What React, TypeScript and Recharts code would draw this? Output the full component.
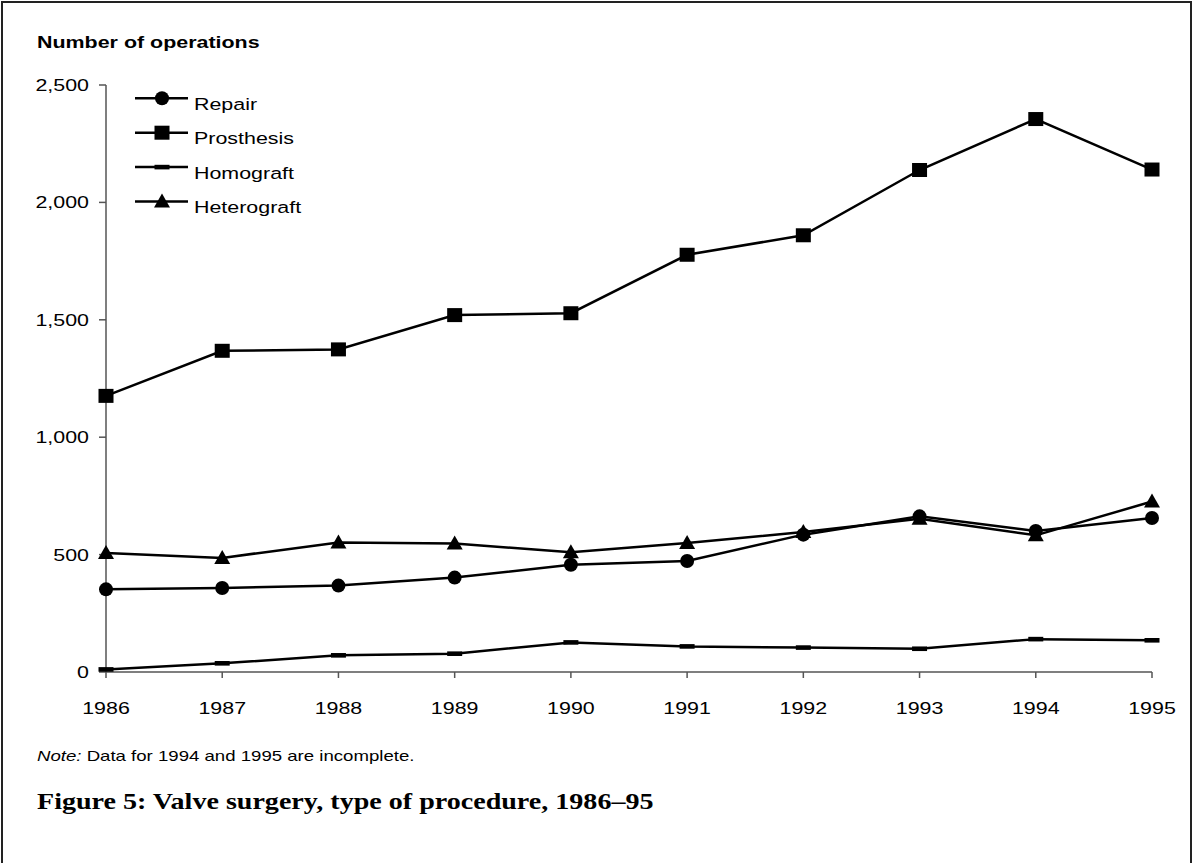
import React from "react";
import { LineChart, Line, XAxis, YAxis } from "recharts";

const years = ["1986", "1987", "1988", "1989", "1990", "1991", "1992", "1993", "1994", "1995"];
const repair = [352, 358, 368, 402, 457, 473, 585, 663, 601, 656];
const prosthesis = [1176, 1368, 1374, 1520, 1528, 1777, 1860, 2138, 2355, 2140];
const homograft = [11, 37, 71, 78, 126, 109, 104, 99, 140, 135];
const heterograft = [507, 486, 552, 547, 510, 549, 596, 653, 582, 726];
const yTicks = [0, 500, 1000, 1500, 2000, 2500];

const seriesNames = ["Repair", "Prosthesis", "Homograft", "Heterograft"];
const seriesShapes = ["circle", "square", "dash", "triangle"];

const data = years.map((y, i) => ({
  year: y,
  Repair: repair[i],
  Prosthesis: prosthesis[i],
  Homograft: homograft[i],
  Heterograft: heterograft[i],
}));

const SANS = "'Liberation Sans', Arial, sans-serif";
const STRETCH = 1.26;

function Marker({ shape, cx, cy }: { shape: string; cx: number; cy: number }) {
  if (shape === "circle") return <circle cx={cx} cy={cy} r={7} fill="#000" />;
  if (shape === "square") return <rect x={cx - 7.5} y={cy - 7} width={15} height={14} fill="#000" />;
  if (shape === "dash") return <rect x={cx - 7.5} y={cy - 2.3} width={15} height={4.6} fill="#000" />;
  return <polygon points={`${cx},${cy - 8} ${cx + 8},${cy + 6} ${cx - 8},${cy + 6}`} fill="#000" />;
}

const makeDot = (shape: string) => (props: any) => {
  const { cx, cy, index } = props;
  if (cx == null || cy == null) return <g key={`d-${shape}-${index}`} />;
  return (
    <g key={`d-${shape}-${index}`}>
      <Marker shape={shape} cx={cx} cy={cy} />
    </g>
  );
};

const fmt = (v: number) => v.toLocaleString("en-US");

const YTick = (props: any) => {
  const { x, y, payload } = props;
  return (
    <g transform={`translate(${x},${y})`}>
      <text transform={`scale(${STRETCH},1)`} textAnchor="end" dy="0.355em" fontSize={17} fontFamily={SANS} fill="#000">
        {fmt(payload.value)}
      </text>
    </g>
  );
};

const XTick = (props: any) => {
  const { x, y, payload } = props;
  return (
    <g transform={`translate(${x},${y})`}>
      <text transform={`scale(${STRETCH},1)`} textAnchor="middle" dy="0.71em" fontSize={17} fontFamily={SANS} fill="#000">
        {payload.value}
      </text>
    </g>
  );
};

function LegendBox() {
  return (
    <svg width={240} height={130} style={{ position: "absolute", left: 135, top: 86, display: "block" }}>
      {seriesNames.map((name, i) => {
        const cy = 12.3 + i * 34.4;
        return (
          <g key={name}>
            <line x1={0} x2={53} y1={cy} y2={cy} stroke="#000" strokeWidth={2.5} />
            <Marker shape={seriesShapes[i]} cx={27} cy={cy} />
            <g transform={`translate(59,${cy + 11.7})`}>
              <text transform={`scale(${STRETCH},1)`} fontSize={17} fontFamily={SANS} fill="#000">
                {name}
              </text>
            </g>
          </g>
        );
      })}
    </svg>
  );
}

export default function App() {
  return (
    <div style={{ position: "absolute", left: 0, top: 0, width: 1192, height: 863, background: "#fff", overflow: "hidden" }}>
      <div
        style={{
          position: "absolute",
          left: 1,
          top: 1,
          width: 1187,
          height: 900,
          borderLeft: "2px solid #222",
          borderTop: "2px solid #222",
          borderRight: "2px solid #222",
        }}
      />
      <div
        style={{
          position: "absolute",
          left: 37,
          top: 33,
          fontFamily: SANS,
          fontWeight: "bold",
          fontSize: 17,
          color: "#000",
          whiteSpace: "nowrap",
          transform: `scaleX(${STRETCH})`,
          transformOrigin: "left top",
        }}
      >
        Number of operations
      </div>
      <div style={{ position: "absolute", left: 0, top: 0 }}>
        <LineChart width={1192} height={740} data={data} margin={{ top: 85, right: 40, bottom: 40, left: 0 }}>
          <XAxis
            dataKey="year"
            height={28}
            tickSize={6}
            tickMargin={24}
            axisLine={{ stroke: "#555", strokeWidth: 1.5 }}
            tickLine={{ stroke: "#555", strokeWidth: 1.5 }}
            tick={<XTick />}
            interval={0}
          />
          <YAxis
            width={106}
            domain={[0, 2500]}
            ticks={yTicks}
            tickSize={7}
            tickMargin={10}
            axisLine={{ stroke: "#555", strokeWidth: 1.5 }}
            tickLine={{ stroke: "#555", strokeWidth: 1.5 }}
            tick={<YTick />}
          />
          <Line dataKey="Homograft" stroke="#000" strokeWidth={2.5} isAnimationActive={false} dot={makeDot("dash")} activeDot={false} />
          <Line dataKey="Repair" stroke="#000" strokeWidth={2.5} isAnimationActive={false} dot={makeDot("circle")} activeDot={false} />
          <Line dataKey="Heterograft" stroke="#000" strokeWidth={2.5} isAnimationActive={false} dot={makeDot("triangle")} activeDot={false} />
          <Line dataKey="Prosthesis" stroke="#000" strokeWidth={2.5} isAnimationActive={false} dot={makeDot("square")} activeDot={false} />
        </LineChart>
      </div>
      <LegendBox />
      <div
        style={{
          position: "absolute",
          left: 37,
          top: 747,
          fontFamily: SANS,
          fontSize: 15,
          color: "#000",
          whiteSpace: "nowrap",
          transform: "scaleX(1.24)",
          transformOrigin: "left top",
        }}
      >
        <i>Note:</i> Data for 1994 and 1995 are incomplete.
      </div>
      <div
        style={{
          position: "absolute",
          left: 37,
          top: 789,
          fontFamily: "'Liberation Serif', 'Times New Roman', serif",
          fontWeight: "bold",
          fontSize: 23,
          color: "#000",
          whiteSpace: "nowrap",
          transform: "scaleX(1.22)",
          transformOrigin: "left top",
        }}
      >
        Figure 5: Valve surgery, type of procedure, 1986–95
      </div>
    </div>
  );
}
